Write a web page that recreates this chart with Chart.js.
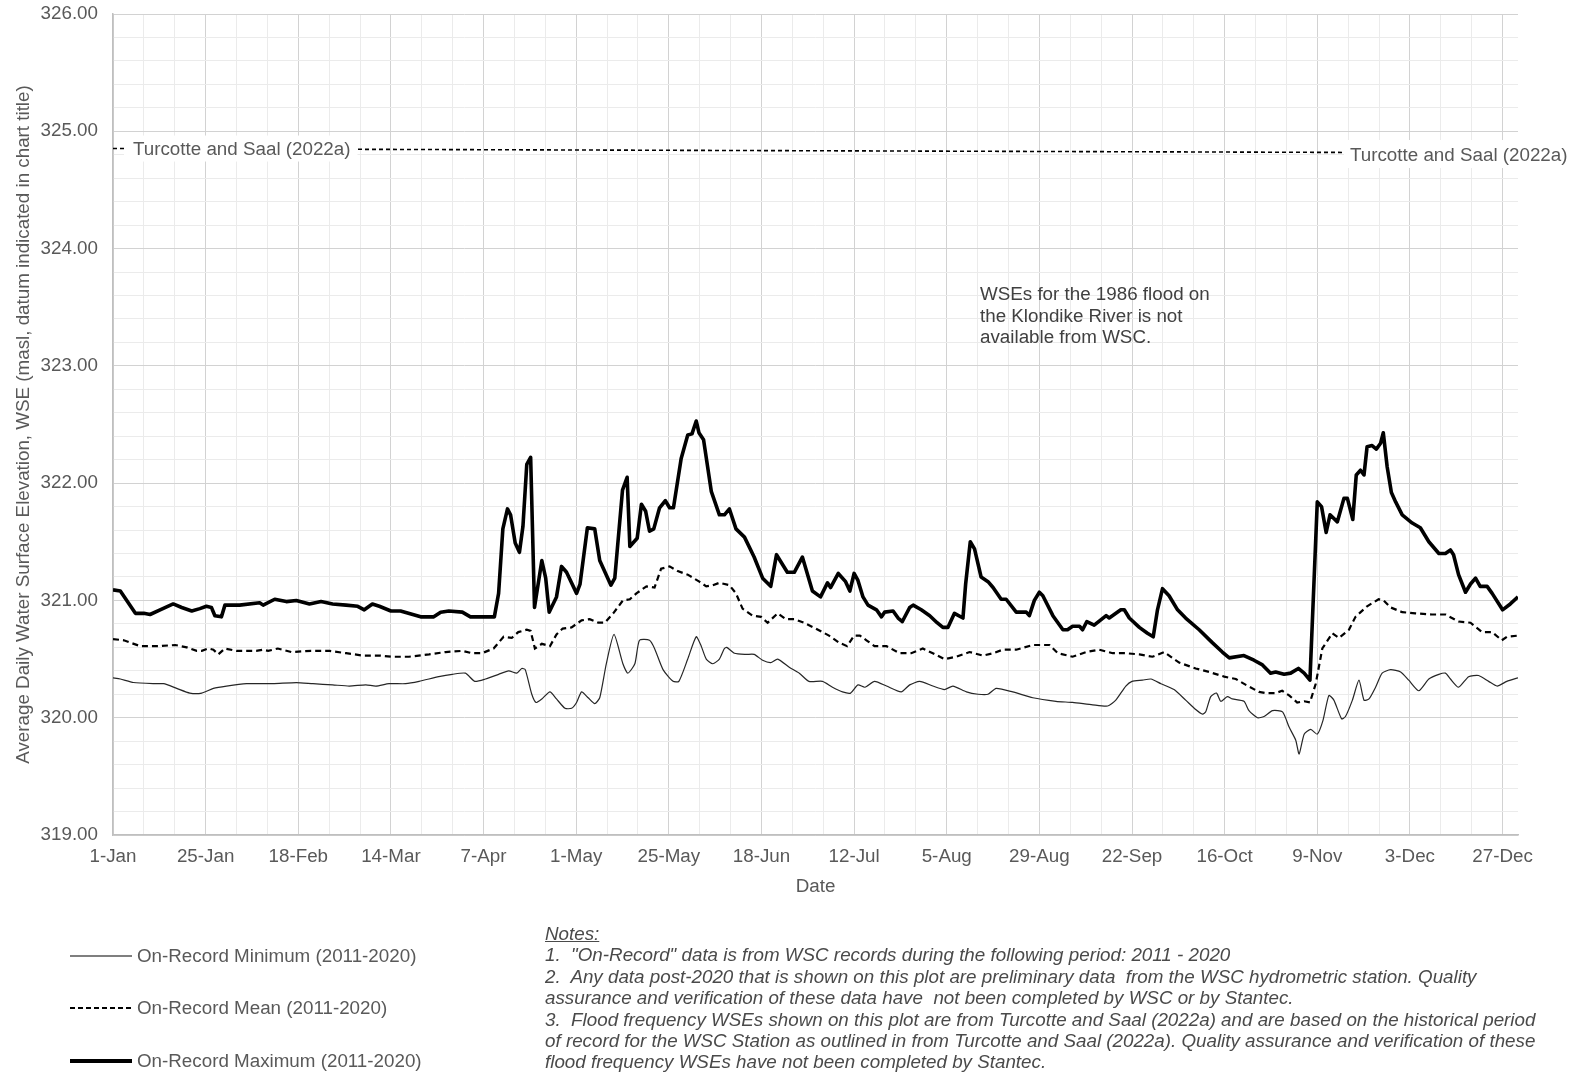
<!DOCTYPE html>
<html>
<head>
<meta charset="utf-8">
<title>Average Daily WSE</title>
<script src="https://cdn.jsdelivr.net/npm/chart.js@4.4.1/dist/chart.umd.min.js"></script>
<style>
  html, body { margin: 0; padding: 0; background: #fff; }
  #wrap { position: relative; width: 1575px; height: 1073px; overflow: hidden; font-family: "Liberation Sans", Arial, sans-serif; }
  #wseChart { position: absolute; left: 0; top: 0; }
  .flood-note { position: absolute; left: 980px; top: 283px; font-size: 18.8px; line-height: 21.6px; color: #404040; white-space: nowrap; }
  .legend { position: absolute; left: 0; top: 0; }
  .legend-item { position: absolute; left: 70px; height: 24px; white-space: nowrap; font-size: 18.8px; color: #595959; }
  .legend-item svg { position: absolute; left: 0; top: 0; }
  .legend-item span { position: absolute; left: 67px; top: 1px; }
  .notes { position: absolute; left: 545px; top: 923px; font-style: italic; font-size: 18.8px; line-height: 21.4px; color: #4a4a4a; white-space: nowrap; }
  .notes u { text-decoration: underline; }
</style>
</head>
<body>
<div id="wrap">
  <canvas id="wseChart" width="1575" height="1073"></canvas>

  <div class="flood-note">WSEs for the 1986 flood on<br>the Klondike River is not<br>available from WSC.</div>

  <div class="legend">
    <div class="legend-item" style="top:944px; width:430px;">
      <svg width="64" height="24"><line x1="0" y1="12" x2="62" y2="12" stroke="#000" stroke-width="1.2"/></svg>
      <span>On-Record Minimum (2011-2020)</span>
    </div>
    <div class="legend-item" style="top:996px; width:430px;">
      <svg width="64" height="24"><line x1="0" y1="12" x2="62" y2="12" stroke="#000" stroke-width="2" stroke-dasharray="5 3"/></svg>
      <span>On-Record Mean (2011-2020)</span>
    </div>
    <div class="legend-item" style="top:1049px; width:430px;">
      <svg width="64" height="24"><line x1="0" y1="12" x2="62" y2="12" stroke="#000" stroke-width="4"/></svg>
      <span>On-Record Maximum (2011-2020)</span>
    </div>
  </div>

  <div class="notes">
    <div><u>Notes:</u></div>
    <div>1.&nbsp; "On-Record" data is from WSC records during the following period: 2011 - 2020</div>
    <div>2.&nbsp; Any data post-2020 that is shown on this plot are preliminary data&nbsp; from the WSC hydrometric station. Quality</div>
    <div>assurance and verification of these data have&nbsp; not been completed by WSC or by Stantec.</div>
    <div>3.&nbsp; Flood frequency WSEs shown on this plot are from Turcotte and Saal (2022a) and are based on the historical period</div>
    <div>of record for the WSC Station as outlined in from Turcotte and Saal (2022a). Quality assurance and verification of these</div>
    <div>flood frequency WSEs have not been completed by Stantec.</div>
  </div>
</div>

<script>
// tick labels on the date axis (one every 24 days, day 0 = 1-Jan)
const xTickLabels = ["1-Jan", "25-Jan", "18-Feb", "14-Mar", "7-Apr", "1-May", "25-May", "18-Jun",
  "12-Jul", "5-Aug", "29-Aug", "22-Sep", "16-Oct", "9-Nov", "3-Dec", "27-Dec"];

// On-Record Maximum (2011-2020): day of year, WSE
const maxDays = [0, 1.9, 5.8, 8, 9.6, 12.2, 15.6, 17.8, 20.4, 22.5, 24.2, 25.5, 26.4, 28.1, 29, 32.8, 38, 38.9,
  41.9, 44.9, 47.5, 50.9, 53.9, 56.9, 60.4, 63.4, 65.1, 67.2, 69, 72, 74.5, 79.7, 83.1, 84.9, 87, 90.5, 92.6,
  98.8, 99.9, 101, 102.2, 103, 104.2, 105.3, 106.2, 107.2, 108.2, 109.2, 111.1, 112.1, 113, 114.9, 116.2, 117.5,
  120.1, 121, 122.9, 124.8, 126.1, 129, 130, 132, 133.2, 133.9, 135.8, 136.9, 138, 139, 140.1, 141.6, 143.1,
  144.2, 145.2, 147.2, 148.9, 150, 151.1, 151.8, 153, 155, 157.1, 158.4, 159.7, 161.4, 163.6, 166.1, 168.3,
  170.4, 171.9, 174.7, 176.5, 178.6, 181.2, 183.3, 185.1, 185.9, 187.9, 189.8, 190.9, 192, 193, 194.3, 195.6,
  197.8, 199.1, 199.9, 202.1, 203.4, 204.5, 206.4, 207.3, 209.4, 211.6, 213.5, 215, 216.3, 218, 220.2, 220.9,
  222.1, 223.2, 224.9, 226.7, 228, 230.1, 231.4, 234, 236.6, 237.4, 238.7, 240, 240.9, 243.5, 246.1, 247.3,
  248.6, 250.4, 251.2, 252.3, 254.2, 257.3, 258.1, 261.1, 262, 263.3, 265.9, 268, 269.5, 270.6, 271.9, 273.6,
  275.8, 277.9, 281.4, 284.8, 287.4, 289.2, 293, 295.6, 297.8, 299.9, 301.2, 303.4, 305.1, 307.1, 308.6, 310.1,
  312, 313.1, 314.3, 315.3, 317.2, 318.9, 319.8, 321.2, 322.1, 323.2, 324.1, 324.9, 326.2, 327.3, 328.4, 329.1,
  330.1, 331.2, 332.3, 334, 336.6, 338.7, 340.9, 343.5, 345.2, 346.5, 347.3, 348.6, 350.4, 351.7, 353, 354.2,
  356, 357.3, 360, 362, 364];
const maxVals = [321.09, 321.08, 320.89, 320.89, 320.88, 320.92, 320.97, 320.94, 320.91, 320.93, 320.95, 320.94,
  320.87, 320.86, 320.96, 320.96, 320.98, 320.96, 321.01, 320.99, 321.00, 320.97, 320.99, 320.97, 320.96,
  320.95, 320.92, 320.97, 320.95, 320.91, 320.91, 320.86, 320.86, 320.90, 320.91, 320.90, 320.86, 320.86,
  321.06, 321.61, 321.78, 321.73, 321.49, 321.41, 321.63, 322.16, 322.22, 320.94, 321.34, 321.19, 320.90,
  321.03, 321.29, 321.24, 321.06, 321.14, 321.62, 321.61, 321.34, 321.13, 321.19, 321.94, 322.05, 321.46,
  321.53, 321.82, 321.76, 321.59, 321.61, 321.79, 321.85, 321.79, 321.79, 322.21, 322.41, 322.42, 322.53,
  322.43, 322.37, 321.93, 321.73, 321.73, 321.78, 321.61, 321.54, 321.37, 321.19, 321.12, 321.39, 321.24,
  321.24, 321.37, 321.08, 321.03, 321.15, 321.11, 321.23, 321.16, 321.08, 321.23, 321.17, 321.03, 320.96,
  320.92, 320.86, 320.90, 320.91, 320.85, 320.82, 320.94, 320.96, 320.92, 320.87, 320.81, 320.77, 320.77,
  320.89, 320.85, 321.14, 321.50, 321.44, 321.20, 321.16, 321.11, 321.01, 321.01, 320.90, 320.90, 320.87,
  321.00, 321.07, 321.04, 320.87, 320.75, 320.75, 320.78, 320.78, 320.75, 320.82, 320.79, 320.87, 320.85,
  320.92, 320.92, 320.85, 320.77, 320.72, 320.69, 320.92, 321.10, 321.04, 320.92, 320.85, 320.75, 320.64,
  320.56, 320.51, 320.53, 320.49, 320.45, 320.38, 320.39, 320.37, 320.38, 320.42, 320.38, 320.32, 321.84,
  321.80, 321.58, 321.73, 321.67, 321.87, 321.87, 321.69, 322.07, 322.11, 322.07, 322.31, 322.32, 322.29,
  322.34, 322.43, 322.14, 321.92, 321.84, 321.73, 321.66, 321.62, 321.50, 321.40, 321.40, 321.43, 321.39,
  321.22, 321.07, 321.14, 321.19, 321.12, 321.12, 321.06, 320.92, 320.97, 321.03];

// On-Record Mean (2011-2020)
const meanDays = [0, 2.8, 7.1, 11.8, 16.1, 19.1, 21.7, 23, 24.7, 26, 27.3, 29, 32, 37.1, 38.9, 40.2, 42.7, 46.2,
  51.3, 56.1, 60.4, 64.7, 69, 72.4, 76.7, 81.9, 86.2, 90.5, 93, 95.6, 98.6, 101.2, 103.3, 105, 107.2, 108.2,
  109.3, 111.1, 113.2, 114.9, 116.5, 118.8, 121.4, 123.5, 125.7, 127.4, 129.6, 132.1, 133.9, 135.6, 138.2,
  140.3, 142, 144.2, 146.3, 148.9, 151.9, 153.7, 155.4, 157.1, 159.7, 161.4, 163.1, 165.7, 167.9, 169.6,
  172.2, 174.3, 176.5, 179, 182.1, 185.5, 188.1, 190.2, 192, 193.5, 195.2, 197.3, 200.4, 203.8, 206.8, 209.8,
  212.4, 215.4, 218.5, 221.9, 225.4, 228, 230.5, 234, 238.3, 242.6, 244.8, 248.6, 252.1, 255.5, 259, 262.4,
  265.9, 269.3, 272.3, 276.2, 280.5, 284, 287.9, 290.9, 293.5, 296.9, 298.6, 301.2, 302.9, 304.7, 306.8,
  308.6, 310.1, 311.6, 313.3, 315.9, 317.6, 320.2, 321.9, 324.9, 327.9, 329.2, 331, 334, 337.4, 341.7, 345.2,
  348.6, 351.7, 354.7, 357.3, 359.8, 361.1, 364];
const meanVals = [320.67, 320.66, 320.61, 320.61, 320.62, 320.60, 320.57, 320.57, 320.59, 320.58, 320.54, 320.59,
  320.57, 320.57, 320.58, 320.57, 320.59, 320.56, 320.57, 320.57, 320.55, 320.53, 320.53, 320.52, 320.52,
  320.54, 320.56, 320.57, 320.55, 320.55, 320.59, 320.69, 320.68, 320.73, 320.75, 320.74, 320.59, 320.63,
  320.61, 320.71, 320.76, 320.77, 320.83, 320.84, 320.81, 320.81, 320.89, 321.00, 321.01, 321.06, 321.12,
  321.11, 321.27, 321.29, 321.25, 321.22, 321.16, 321.12, 321.13, 321.15, 321.13, 321.06, 320.93, 320.87,
  320.86, 320.81, 320.89, 320.84, 320.84, 320.81, 320.76, 320.70, 320.64, 320.61, 320.70, 320.70, 320.66,
  320.61, 320.61, 320.55, 320.55, 320.59, 320.55, 320.50, 320.52, 320.56, 320.53, 320.55, 320.58, 320.58,
  320.62, 320.62, 320.55, 320.52, 320.56, 320.58, 320.55, 320.55, 320.54, 320.52, 320.56, 320.47, 320.42,
  320.39, 320.35, 320.33, 320.28, 320.22, 320.21, 320.21, 320.23, 320.19, 320.13, 320.14, 320.13, 320.29,
  320.59, 320.72, 320.68, 320.75, 320.86, 320.95, 321.01, 321.00, 320.94, 320.90, 320.89, 320.88, 320.88,
  320.82, 320.81, 320.73, 320.73, 320.66, 320.69, 320.70];

// On-Record Minimum (2011-2020)
const minDays = [0, 1.9, 5.3, 10.5, 13.1, 16.5, 19.9, 23, 26, 29.4, 34.6, 41.4, 47.5, 51.8, 56.9, 61.2, 65.5,
  68.1, 71.5, 75.8, 79.3, 84.4, 87.9, 91.3, 93.7, 96.5, 99.9, 102.5, 104.6, 105.9, 106.8, 108.5, 109.6, 111.1,
  113.2, 114.9, 117.1, 118.8, 120.1, 121.4, 123.1, 124.8, 126.1, 127.8, 129.8, 132.1, 133.4, 135.2, 136.4, 139,
  140.3, 142.5, 145.1, 146.6, 148.9, 151.1, 152.4, 153.7, 155.4, 157.1, 158.4, 159, 161, 164, 166.1, 168.3,
  170.4, 172.2, 175.2, 177.8, 180.3, 183.8, 186.4, 189, 191.1, 193, 194.8, 197.3, 200.4, 204.2, 206.4, 209,
  212.4, 215.4, 217.6, 221.1, 224.1, 226.7, 228.8, 233.1, 238.3, 244.3, 248.6, 253.8, 257.7, 259.8, 262.4,
  264, 266.7, 268.9, 271.5, 274.9, 277.9, 280.5, 282.3, 283.1, 284.4, 285.9, 287, 288.7, 290, 293, 294.3,
  296.5, 298.2, 300.4, 303, 304.7, 306.4, 307.3, 308.6, 310.3, 312, 313.5, 315, 316.3, 318.3, 319.3, 321.1,
  322.8, 324.1, 325.4, 327.1, 328.8, 331, 333.6, 335.7, 338.3, 340.9, 343.5, 345.2, 346.5, 348.6, 351.2,
  353.8, 356.4, 358.6, 361.1, 364];
const minVals = [320.34, 320.33, 320.30, 320.29, 320.29, 320.25, 320.21, 320.21, 320.25, 320.27, 320.29, 320.29,
  320.30, 320.29, 320.28, 320.27, 320.28, 320.27, 320.29, 320.29, 320.31, 320.35, 320.37, 320.38, 320.31,
  320.33, 320.37, 320.40, 320.38, 320.42, 320.41, 320.20, 320.13, 320.16, 320.22, 320.16, 320.08, 320.08,
  320.13, 320.22, 320.17, 320.12, 320.17, 320.46, 320.71, 320.46, 320.38, 320.46, 320.66, 320.66, 320.59,
  320.41, 320.31, 320.31, 320.50, 320.69, 320.61, 320.50, 320.46, 320.50, 320.59, 320.60, 320.55, 320.54,
  320.54, 320.49, 320.47, 320.50, 320.43, 320.38, 320.31, 320.31, 320.26, 320.22, 320.21, 320.28, 320.26,
  320.31, 320.27, 320.22, 320.28, 320.31, 320.27, 320.24, 320.27, 320.22, 320.20, 320.20, 320.25, 320.22,
  320.17, 320.14, 320.13, 320.11, 320.10, 320.15, 320.27, 320.31, 320.32, 320.33, 320.29, 320.24, 320.15,
  320.07, 320.03, 320.05, 320.18, 320.21, 320.14, 320.18, 320.16, 320.14, 320.06, 320.00, 320.01, 320.06,
  320.05, 319.92, 319.81, 319.69, 319.86, 319.90, 319.86, 319.98, 320.19, 320.15, 319.99, 320.01, 320.15,
  320.32, 320.15, 320.16, 320.26, 320.38, 320.41, 320.39, 320.32, 320.23, 320.33, 320.37, 320.38, 320.33,
  320.26, 320.35, 320.36, 320.31, 320.27, 320.31, 320.34];

// flood frequency WSE line (Turcotte and Saal, 2022a)
const turcotteDays = [0, 364];
const turcotteVals = [324.853, 324.815];
const turcotteLabel = "Turcotte and Saal (2022a)";

const toPoints = (days, vals) => days.map((d, i) => ({ x: d, y: vals[i] }));

const tickGray = "#595959";
const fontFamily = '"Liberation Sans", Arial, sans-serif';
const isWholeNumber = (v) => Math.abs(v - Math.round(v)) < 1e-6;

// labels at both ends of the Turcotte line, on a white box
const turcotteLabels = {
  id: "turcotteLabels",
  afterDatasetsDraw(chart) {
    const { ctx, scales: { x, y } } = chart;
    ctx.save();
    ctx.font = "18.8px " + fontFamily;
    ctx.textBaseline = "middle";
    const w = ctx.measureText(turcotteLabel).width;

    const x0 = x.getPixelForValue(turcotteDays[0]);
    const y0 = y.getPixelForValue(turcotteVals[0]);
    ctx.fillStyle = "#fff";
    ctx.fillRect(x0 + 11, y0 - 13, w + 16, 26);
    ctx.fillStyle = tickGray;
    ctx.fillText(turcotteLabel, x0 + 20, y0 + 1);

    const x1 = x.getPixelForValue(turcotteDays[1]);
    const y1 = y.getPixelForValue(turcotteVals[1]);
    ctx.fillStyle = "#fff";
    ctx.fillRect(x1 - 174, y1 - 13, w + 40, 28);
    ctx.fillStyle = tickGray;
    ctx.fillText(turcotteLabel, x1 - 168, y1 + 3);
    ctx.restore();
  },
};

const ctx = document.getElementById("wseChart").getContext("2d");

const chart = new Chart(ctx, {
  type: "line",
  data: {
    datasets: [
      {
        label: "Turcotte and Saal (2022a)",
        data: toPoints(turcotteDays, turcotteVals),
        borderColor: "#000",
        borderWidth: 1.6,
        borderDash: [4, 3],
        pointRadius: 0,
      },
      {
        label: "On-Record Minimum (2011-2020)",
        data: toPoints(minDays, minVals),
        borderColor: "#262626",
        borderWidth: 1.2,
        pointRadius: 0,
        tension: 0.2,
      },
      {
        label: "On-Record Mean (2011-2020)",
        data: toPoints(meanDays, meanVals),
        borderColor: "#000",
        borderWidth: 2.2,
        borderDash: [6, 4],
        pointRadius: 0,
      },
      {
        label: "On-Record Maximum (2011-2020)",
        data: toPoints(maxDays, maxVals),
        borderColor: "#000",
        borderWidth: 3.6,
        pointRadius: 0,
        borderJoinStyle: "round",
      },
    ],
  },
  options: {
    responsive: false,
    animation: false,
    devicePixelRatio: 1,
    layout: { padding: { left: 0, top: 14, right: 57, bottom: 175 } },
    scales: {
      x: {
        type: "linear",
        min: 0,
        max: 364,
        afterFit: (scale) => { scale.height = 63; },
        ticks: {
          stepSize: 8,
          includeBounds: false,
          autoSkip: false,
          maxRotation: 0,
          padding: 11,
          color: tickGray,
          font: { family: fontFamily, size: 18.8 },
          callback: (v) => (Math.round(v) % 24 === 0 ? xTickLabels[Math.round(v) / 24] : ""),
        },
        grid: {
          drawTicks: false,
          color: (c) => (c.tick && Math.round(c.tick.value) % 24 === 0 ? "#d2d2d2" : "#ebebeb"),
        },
        border: { color: "#bfbfbf", width: 1.5 },
        title: {
          display: true,
          text: "Date",
          color: tickGray,
          padding: { top: 4, bottom: 0 },
          font: { family: fontFamily, size: 18.8 },
        },
      },
      y: {
        min: 319,
        max: 326,
        afterFit: (scale) => {
          scale.width = 113;
          scale.paddingTop = 0;
          scale.paddingBottom = 0;
        },
        ticks: {
          stepSize: 0.2,
          autoSkip: false,
          padding: 15,
          color: tickGray,
          font: { family: fontFamily, size: 18.8 },
          callback: (v) => (isWholeNumber(v) ? Number(v).toFixed(2) : ""),
        },
        grid: {
          drawTicks: false,
          color: (c) => (c.tick && isWholeNumber(c.tick.value) ? "#d2d2d2" : "#ebebeb"),
        },
        border: { color: "#bfbfbf", width: 1.5 },
        title: {
          display: true,
          text: "Average Daily Water Surface Elevation, WSE (masl, datum indicated in chart title)",
          color: tickGray,
          padding: { top: 13, bottom: 0 },
          font: { family: fontFamily, size: 18.8 },
        },
      },
    },
    plugins: {
      legend: { display: false },
      tooltip: { enabled: false },
    },
  },
  plugins: [turcotteLabels],
});
</script>
</body>
</html>
